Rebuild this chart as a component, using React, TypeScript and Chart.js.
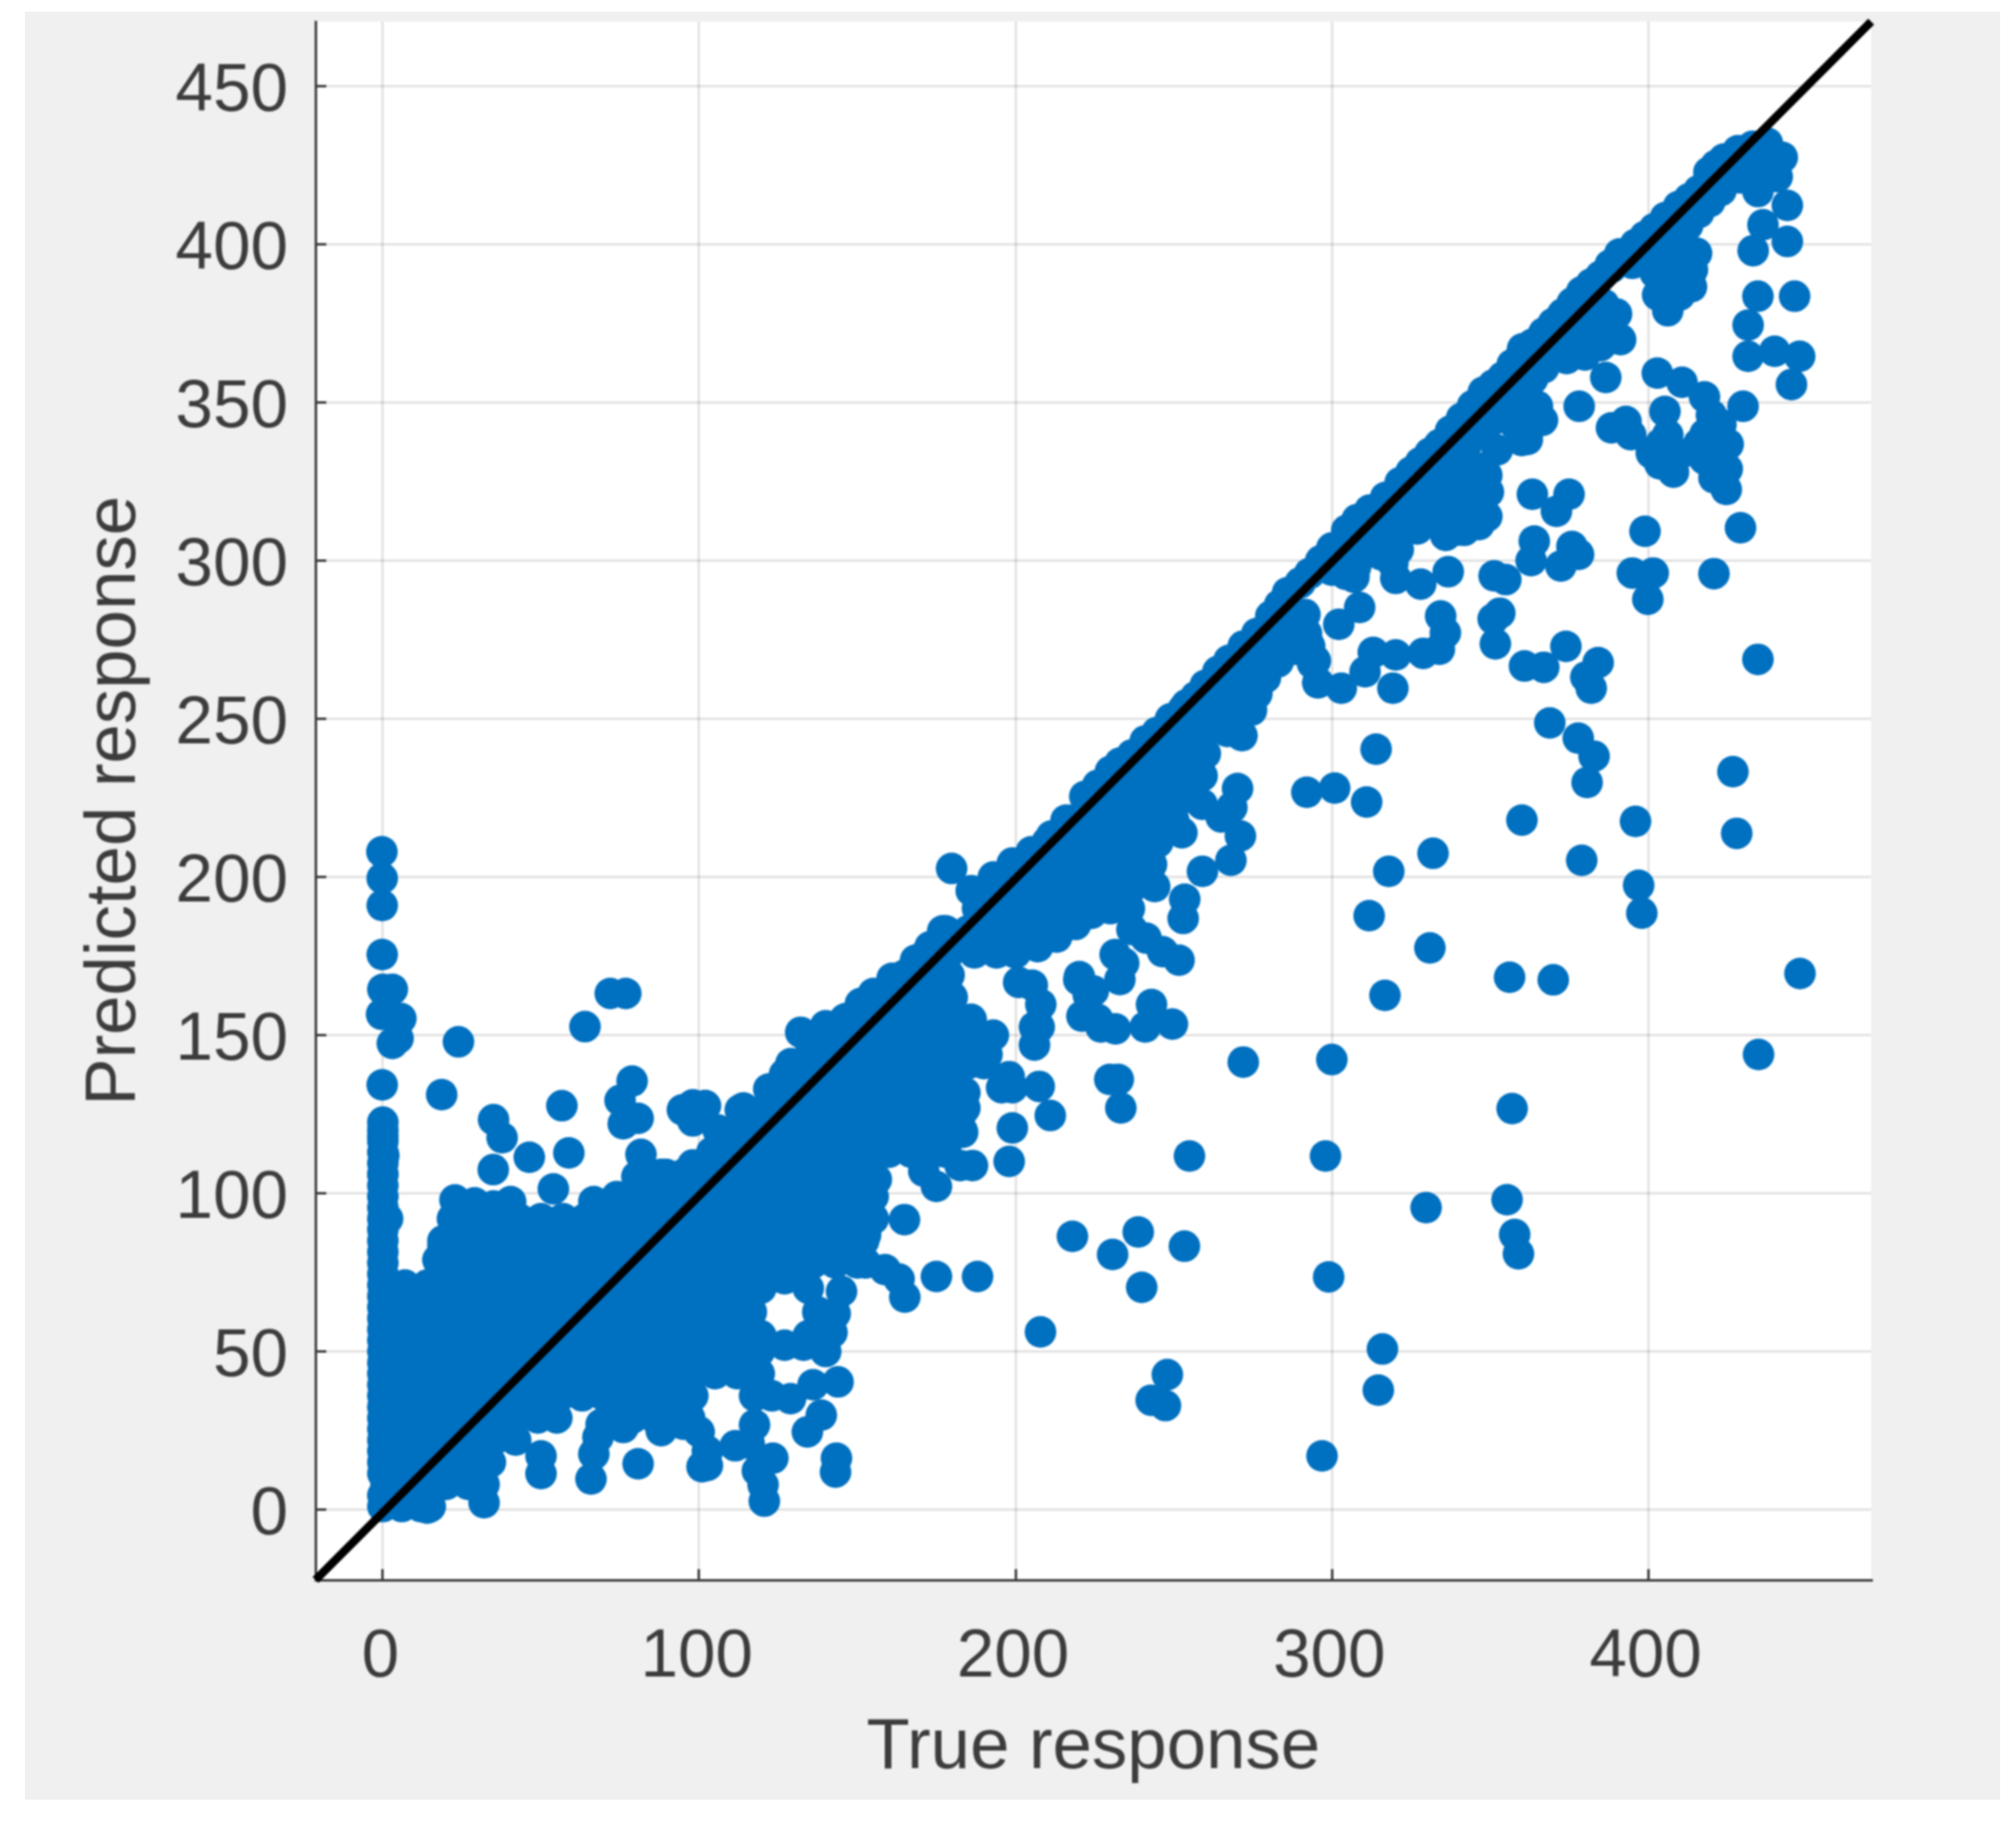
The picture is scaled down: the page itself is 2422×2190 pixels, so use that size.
import React, { useEffect, useRef } from "react";
import { Chart, registerables } from "chart.js";

Chart.register(...registerables);

const xTicks = [0, 100, 200, 300, 400];
const yTicks = [0, 50, 100, 150, 200, 250, 300, 350, 400, 450];
const xTitle = "True response";
const yTitle = "Predicted response";
const diagonal: number[][] = [[-21.3, -22.2], [470.5, 470.4]];

// Solid mass of overlapping markers
const massRowY = [1, 8, 15, 22, 29, 36, 43, 50, 57, 64, 71, 78, 85, 92, 99, 106, 113, 120, 127, 134, 141, 148, 155, 162, 169, 176, 183, 190, 197, 204, 211, 218, 225, 232, 239, 246, 253, 260, 267, 274];
const massRowX: number[][] = [
  [0, 6, 12, 15],
  [1, 7, 14, 20, 27, 32],
  [0, 7, 14, 21, 28, 34],
  [0, 7, 14, 21, 28, 35, 42],
  [0, 7, 14, 21, 28, 35, 42, 49, 55, 73, 79, 86, 92, 97],
  [0, 7, 14, 21, 28, 35, 42, 49, 56, 63, 70, 77, 84, 91, 98],
  [0, 7, 14, 21, 28, 35, 42, 49, 56, 63, 70, 77, 84, 91, 98, 105, 112, 119],
  [0, 7, 14, 21, 28, 35, 42, 49, 56, 63, 70, 77, 84, 91, 98, 105, 112, 119],
  [0, 7, 14, 21, 28, 35, 42, 49, 56, 63, 70, 77, 84, 91, 98, 105, 112, 116],
  [0, 7, 14, 21, 28, 35, 42, 49, 56, 63, 70, 77, 84, 91, 98, 105, 112, 115],
  [0, 7, 14, 21, 28, 35, 42, 49, 56, 63, 70, 77, 84, 91, 98, 105, 112, 118],
  [0, 18, 24, 31, 38, 45, 52, 59, 66, 73, 80, 87, 94, 101, 108, 115, 122, 129, 136, 143, 150],
  [0, 19, 26, 33, 40, 47, 54, 61, 68, 75, 82, 89, 96, 103, 110, 117, 124, 131, 138, 145, 152],
  [0, 22, 29, 36, 43, 50, 57, 64, 71, 78, 85, 92, 99, 106, 113, 120, 127, 134, 141, 148, 155],
  [0, 74, 80, 87, 94, 101, 108, 115, 122, 129, 136, 143, 150, 155],
  [0, 82, 88, 95, 102, 109, 116, 123, 130, 137, 144, 151, 154],
  [0, 104, 111, 118, 125, 132, 139, 146, 153, 160, 167, 174, 178],
  [0, 106, 113, 120, 127, 134, 141, 148, 155, 162, 169, 176, 183],
  [114, 121, 128, 135, 142, 149, 156, 163, 170, 177, 184],
  [125, 132, 139, 146, 153, 160, 167, 174, 181],
  [129, 136, 143, 150, 157, 164, 171, 178, 185, 190],
  [135, 142, 149, 156, 163, 170, 177, 184, 191],
  [146, 153, 160, 167, 174, 181, 186],
  [155, 162, 169, 176, 180],
  [165, 172, 179],
  [172, 179, 187, 194, 200],
  [178, 185, 192, 199, 206, 213],
  [188, 195, 202, 209, 216, 223, 230, 236],
  [195, 202, 209, 216, 223, 230, 237, 244],
  [201, 208, 215, 222, 229, 236, 243],
  [210, 217, 224, 231, 238, 245],
  [218, 225, 232, 239, 246, 250],
  [225, 232, 239, 246, 253],
  [233, 240, 247, 254, 259],
  [239, 246, 253, 260],
  [246, 253, 260, 267],
  [253, 260, 267, 272],
  [260, 267, 274],
  [268, 275, 280],
  [275, 281],
];

const zeroColumn: number[][] = [[-0.3, 208], [-0.2, 199.6], [-0.2, 191], [-0.2, 175.5], [0, 164.5], [3, 164.5], [-0.4, 156.6], [5.7, 155.3], [3, 147.4], [4.8, 149], [-0.2, 134.3], [0, 122.5], [0, 118], [0.3, 112], [0, 106], [1.5, 92], [0, 4.5], [0, 11.5], [0, 18.5], [0, 25.5], [0, 32.5], [0, 39.5], [0, 46.5], [0, 53.5], [0, 60.5], [0, 67.5], [0, 74.5], [0, 81.5], [0, 88.5], [0, 95.5], [0, 102.5], [0, 109.5], [0, 116.5]];

const upperLeftPoints: number[][] = [[23.9, 147.9], [18.6, 131.2], [63.9, 152.7], [71.9, 163.2], [76.8, 163.2], [35, 123.3], [37.7, 117.6], [46.3, 111.4], [56.6, 127.7], [58.8, 112.8], [78.8, 135.5], [75, 129.4], [80.7, 123.7], [76, 122], [94.7, 126.4], [98, 122.9], [101.8, 127.7], [98, 128], [34.9, 107.5], [53.9, 101.4], [66.7, 97.4], [81.6, 112.3], [80.3, 105.3], [22.8, 97.9], [29, 97], [35, 96], [40.4, 97.4], [89.5, 106], [98, 109], [109.6, 117.6], [113, 126.4], [102, 127.7], [19, 83.4], [17.4, 79]];

const lowerEdgePoints: number[][] = [[14, 0.5], [32, 2.2], [50, 11.4], [50, 17], [65.8, 9.7], [66.7, 17.6], [68, 22.9], [69, 27], [80.7, 14.5], [100.9, 13.6], [102.6, 18.5], [100, 24.6], [120.6, 2.7], [120.2, 7.9], [123.3, 16.3], [118.4, 12.3], [143.4, 16.3], [143.1, 11.9], [111.4, 20.2], [115.8, 21], [117.5, 26.8], [117.5, 36], [134.2, 24.6], [138.6, 29.9], [128.9, 35.1], [123, 36], [143.9, 40.4], [136, 39.5], [102.6, 14], [127, 52], [133, 52], [140, 50], [134.5, 55], [119.5, 55], [116.5, 62.5], [137.5, 62.5], [119.5, 70], [134.5, 70], [142, 56], [143, 62], [127, 73], [145, 69], [76, 26], [88, 25], [95, 27]];

const rightOfMassPoints: number[][] = [[164.9, 91.7], [165, 67.2], [163.2, 72.9], [158.8, 75.9], [152.6, 78], [175, 73.7], [188, 73.7], [207.9, 56.2], [218, 86.4], [230.7, 80.7], [238.8, 87.8], [239.9, 70.3], [253.4, 83.3], [255, 111.8], [248, 42.7], [242.9, 34.6], [247.4, 32.9]];

const band150to250: number[][] = [[211, 124.6], [199, 120.7], [198, 110.1], [186.4, 108.8], [182.5, 108.8], [175, 102.2], [171, 107], [207.5, 133.8], [199, 133.4], [195.6, 133.4], [206, 146.9], [207.5, 152.6], [208, 159.7], [205.3, 165.8], [201, 166.7], [220, 167.5], [221, 156], [227, 152.6], [223, 162.7], [232.5, 136], [233.3, 127], [229.8, 136], [193, 150], [191, 143.9], [198, 136.9], [183.3, 126], [184, 131.8], [183.3, 119.3], [178, 118], [171, 113], [156, 104.4], [155, 92], [152.6, 86.9], [220.2, 168.5], [224.6, 164], [226, 155], [233, 167.6], [231.5, 175.5], [234.2, 172.8], [236.8, 183.4], [241.3, 180.7], [246.5, 176.4], [251.7, 173.7], [243, 159.7], [249.6, 153.5], [241, 152.6], [231.6, 152], [222.9, 157], [206, 152.6], [253.5, 193], [253, 186.9], [259.1, 201.8], [268.1, 205.3], [271.1, 213], [268.4, 222], [270.2, 228], [252.6, 214], [259, 223], [265, 219], [271.6, 244.7], [274.6, 252.7], [279, 264], [283, 268], [293, 273], [294.8, 268.4], [295.6, 261.4], [207, 178], [213, 181], [219, 185], [224, 188.5]];

const aboveLinePoints: number[][] = [[132.1, 150.9], [127, 137.7], [114, 126.8], [146.5, 155.3], [155.1, 163.2], [168.4, 173.7], [177, 183], [179.8, 202.7], [186, 195.7], [199, 204.4], [211.4, 213], [221.9, 225.5], [230, 233.4], [236.8, 238.6], [244.7, 245.7], [254, 254.4], [260, 260.6], [267.5, 268.5], [276.3, 277], [280.7, 282.5], [286, 289.9], [293, 296], [300, 304], [304.7, 309.6], [312, 316], [321.6, 324.7], [328, 331], [334, 336.7], [341, 345], [347.9, 353], [354, 358], [360, 365.4], [367, 372], [373, 378], [379, 385], [385, 390], [391, 397], [396, 400], [402, 405], [409.6, 412], [416, 417], [419.2, 422.8], [424, 427], [428.4, 429.6], [433, 431], [122, 133], [140, 153], [151, 160], [161, 168], [173, 178], [193, 200], [205, 208], [216, 218], [226, 229], [233, 236], [241, 243], [249, 250], [257, 257], [264, 265], [272, 273], [283.5, 286], [290, 293], [296.5, 300], [308, 313], [317, 320], [325, 328], [331, 334], [337.5, 341], [344.5, 349], [351, 355.5], [357, 362], [363.5, 368.5], [370, 375], [376, 381.5], [382, 387.5], [388, 393.5], [399, 402.5], [405.5, 408.5], [413, 414.5], [421.5, 425]];

const belowLinePoints: number[][] = [[279, 266], [283, 276], [288.6, 272], [284, 270], [279, 263], [276.3, 257.9], [292, 277], [290, 283], [300, 297], [304.4, 295.7], [308.8, 301], [311, 305], [318, 312], [325, 319], [332, 326], [339, 333], [346, 340], [353, 347], [360, 354], [367, 361], [374, 368], [381, 375], [386, 381], [395, 394], [402, 397], [409, 402], [416, 410], [423, 417], [430, 425], [313, 306], [315.8, 301.8], [319, 306], [321, 303.5], [322.8, 310.6], [326, 310.5], [340, 309.7], [342.9, 310.6], [346.5, 311.4], [341.9, 309.6], [326.3, 311.1], [335.5, 320], [349.5, 321.7], [347.8, 329.2], [352.3, 335], [361.8, 338.3], [366.6, 344.4], [365, 348.8], [360.3, 367], [347.9, 353.3], [286.5, 280], [307.5, 298], [314.5, 308.5], [321.5, 315.5], [328.5, 322.5], [335.5, 329.5], [342.5, 336.5], [349.5, 343.5], [356.5, 350.5], [363.5, 357.5], [370.5, 364.5], [377.5, 371.5], [383.5, 378], [398, 396], [405.5, 399.5], [412.5, 406], [419.5, 413.5], [426.5, 421], [340, 316], [346, 322], [338, 322], [343, 314], [349, 314], [334, 314], [336, 308], [349, 327], [341, 328], [333, 321], [328, 316], [322, 310], [327, 310], [331, 312], [358, 343], [352, 345], [357, 350], [360, 338], [365, 344]];

const chainPoints: number[][] = [[292.1, 226.8], [300.9, 228.1], [311, 223.7], [314, 240.4], [318, 201.8], [311.8, 187.8], [332, 207.5], [331, 177.6], [316.8, 162.6], [360.1, 218], [396, 217.6], [379, 205.3], [397, 197.4], [398, 188.6], [368.9, 248.7], [377.9, 243.9], [382.9, 238.2], [380.7, 229.9], [360.9, 266.7], [367, 266.3], [374, 272.9], [384.2, 267.8], [380.3, 263.2], [382, 259.7], [351.7, 273.7], [353.1, 283.4], [351, 281.6], [351.3, 295.2], [355, 294], [336.8, 296.5], [328.1, 292.6], [320.2, 294.4], [319.3, 299.2], [364, 306.2], [363, 300], [372.4, 298.3], [375.9, 304.5], [378, 302], [399, 309.3], [395, 296.1], [401.6, 296.1], [399.9, 287.8], [334.4, 282.5], [335.9, 277.2], [334, 272], [328.9, 270.7], [320.2, 270.2], [313.1, 271], [310.5, 264.9], [303, 259.7], [295.6, 261.4], [293.9, 267.5], [292.3, 273.7], [319.3, 259.7], [302.2, 279.9], [308.8, 285.2], [291.5, 283], [307, 294.8], [363.4, 321], [375, 321], [371, 315.6]];

const upperRightPoints: number[][] = [[434.7, 268.8], [429.2, 310.4], [420.8, 295.9], [386.6, 357.9], [378.2, 348.8], [430, 348.8], [446.3, 383.6], [444, 400.9], [444, 412.3], [433.2, 398], [436.3, 406.2], [434.7, 383.6], [431.6, 374.5], [431.6, 364.6], [440, 366.2], [447.9, 364.6], [445.3, 355.7], [437.7, 432], [442.4, 427.5], [434.7, 416.7], [437.6, 422.8], [433.2, 424.3], [440.8, 421.4], [429, 421], [415.3, 397.2], [413.7, 386.6], [406.2, 379], [402.2, 391], [408.5, 398.7], [407, 388], [411, 393], [405, 394], [410, 384], [403, 384], [414, 392], [401, 399], [407, 405], [388.4, 392.7], [382.1, 385], [388.3, 374.5], [391.3, 369.9], [374.2, 363.9], [382.1, 371.5], [375.7, 380.5], [377, 369], [385, 368], [383, 377], [390, 378], [369, 367], [380, 365], [402.9, 359.3], [410.7, 356.4], [417.8, 351.8], [420, 346], [405.3, 347.2], [406.2, 339.8], [393, 344], [388.4, 342], [394.5, 339.8], [410, 333.7], [403.7, 330.6], [417.8, 332.1], [425.3, 336.8], [424.7, 322.5], [420.8, 326.2], [418, 340], [423, 343], [423, 331], [416, 337], [420, 336], [404, 337], [401, 334], [408, 328], [425, 329]];

const isolatedPoints: number[][] = [[448, 169.5], [434.9, 143.9], [428, 213.8], [426.8, 233.3], [370, 167.5], [356.2, 168.3], [357, 126.8], [355.4, 98], [357.8, 87], [359, 80.9], [329.8, 95.5], [300, 142.3], [298, 111.8], [299, 73.6], [316, 50.8], [314.7, 37.8], [296.9, 17], [272, 141.5]];

const allPoints = () => {
  const mass: number[][] = [];
  massRowY.forEach((y, i) => massRowX[i].forEach((x) => mass.push([x, y])));
  return [mass, zeroColumn, upperLeftPoints, lowerEdgePoints, rightOfMassPoints, band150to250, aboveLinePoints, belowLinePoints, chainPoints, upperRightPoints, isolatedPoints]
    .flat()
    .map(([x, y]) => ({ x, y }));
};

const plotBackground = {
  id: "plotBackground",
  beforeDraw(chart: any) {
    const { ctx, chartArea: a } = chart;
    ctx.save();
    ctx.fillStyle = "#ffffff";
    ctx.fillRect(a.left, a.top, a.right - a.left, a.bottom - a.top);
    ctx.restore();
  },
};

const INK = "#3c3c3c";
const GRID = "rgba(38,38,38,0.13)";
const noOverhang = (s: any) => { s.paddingTop = 0; s.paddingBottom = 0; s.paddingLeft = 0; s.paddingRight = 0; };

export default function App() {
  const ref = useRef<HTMLCanvasElement | null>(null);
  useEffect(() => {
    const chart = new Chart(ref.current as HTMLCanvasElement, {
      type: "scatter",
      data: {
        datasets: [
          {
            type: "line",
            data: diagonal.map(([x, y]) => ({ x, y })),
            borderColor: "#000000",
            borderWidth: 10,
            pointRadius: 0,
            order: 0,
            clip: false,
          } as any,
          {
            data: allPoints(),
            backgroundColor: "#0070c0",
            borderWidth: 0,
            pointRadius: 19,
            pointHoverRadius: 19,
            order: 1,
          } as any,
        ],
      },
      plugins: [plotBackground],
      options: {
        animation: false,
        responsive: false,
        devicePixelRatio: 1,
        events: [],
        layout: { padding: { top: 26, right: 174, left: 0, bottom: 0 } },
        plugins: { legend: { display: false }, tooltip: { enabled: false } },
        scales: {
          x: {
            type: "linear",
            min: -21.3,
            max: 470.5,
            afterBuildTicks: (s: any) => { s.ticks = xTicks.map((value) => ({ value })); },
            afterFit: (s: any) => { s.height = 292; noOverhang(s); },
            grid: { color: GRID, lineWidth: 3, tickLength: -13, tickColor: INK, tickWidth: 3 },
            border: { color: INK, width: 3 },
            ticks: { color: INK, font: { family: "Liberation Sans", size: 81 }, padding: 58, maxRotation: 0, labelOffset: -3 },
            title: { display: true, text: xTitle, color: INK, font: { family: "Liberation Sans", size: 85 }, padding: { top: 0, bottom: 38 } },
          },
          y: {
            type: "linear",
            min: -22.2,
            max: 470.4,
            afterBuildTicks: (s: any) => { s.ticks = yTicks.map((value) => ({ value })); },
            afterFit: (s: any) => { s.width = 379; noOverhang(s); },
            grid: { color: GRID, lineWidth: 3, tickLength: -13, tickColor: INK, tickWidth: 3 },
            border: { color: INK, width: 3 },
            ticks: { color: INK, font: { family: "Liberation Sans", size: 81 }, padding: 46, labelOffset: 7 },
            title: { display: true, text: yTitle, color: INK, font: { family: "Liberation Sans", size: 85 }, padding: { top: 88, bottom: 0 } },
          },
        },
      },
    } as any);
    return () => chart.destroy();
  }, []);
  return (
    <div style={{ position: "absolute", left: 0, top: 0, width: 2422, height: 2190, background: "#ffffff", overflow: "hidden" }}>
      <div style={{ position: "absolute", left: 30, top: 14, width: 2373, height: 2148, background: "#f0f0f0" }} />
      <canvas ref={ref} width={2422} height={2190} style={{ position: "absolute", left: 0, top: 0, width: 2422, height: 2190, filter: "blur(1px)" }} />
    </div>
  );
}
